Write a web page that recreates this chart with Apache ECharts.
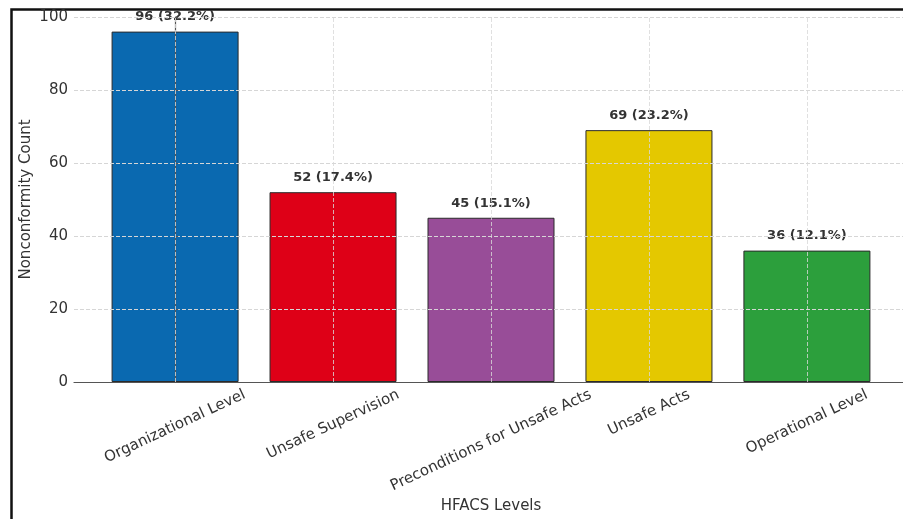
<!DOCTYPE html>
<html>
<head>
<meta charset="utf-8">
<title>HFACS Levels</title>
<script src="https://cdn.jsdelivr.net/npm/echarts@6/dist/echarts.min.js"></script>
<style>
  html, body { margin: 0; padding: 0; background: #ffffff; }
  #chart { width: 903px; height: 519px; }
</style>
</head>
<body>
<div id="chart"></div>
<script>
// HFACS levels and their nonconformity counts
const categories = [
  'Organizational Level',
  'Unsafe Supervision',
  'Preconditions for Unsafe Acts',
  'Unsafe Acts',
  'Operational Level'
];
const counts = [96, 52, 45, 69, 36];
const shares = [32.2, 17.4, 15.1, 23.2, 12.1];
const barColors = ['#0a69b0', '#de0017', '#984d98', '#e4c800', '#2c9f3c'];
const yTicks = [0, 20, 40, 60, 80, 100];

const FONT = '"DejaVu Sans", "Liberation Sans", sans-serif';
const LABEL_SIZE = 15;
const LABEL_ROT = 25;

// text width for the rotated category labels
const measureCtx = document.createElement('canvas').getContext('2d');
function textWidth(t) {
  measureCtx.font = LABEL_SIZE + 'px ' + FONT;
  return measureCtx.measureText(t).width;
}

const chart = echarts.init(document.getElementById('chart'), null, { renderer: 'canvas' });

const option = {
  backgroundColor: '#ffffff',
  animation: false,
  textStyle: { fontFamily: FONT },
  grid: { left: 74, top: 17, width: 834, bottom: 137, containLabel: false, outerBoundsMode: 'none' },
  xAxis: {
    type: 'value',
    min: -0.64,
    max: 4.64,
    z: 4,
    name: 'HFACS Levels',
    nameLocation: 'middle',
    nameGap: 117,
    nameMoveOverlap: false,
    nameTextStyle: { fontSize: 15, color: '#333', fontFamily: FONT },
    axisLine: { show: true, onZero: false, lineStyle: { color: '#555', width: 1.2 } },
    axisTick: { show: false },
    axisLabel: { show: false },
    splitLine: { show: false }
  },
  yAxis: {
    type: 'value',
    min: yTicks[0],
    max: yTicks[yTicks.length - 1],
    interval: yTicks[1] - yTicks[0],
    z: 4,
    name: 'Nonconformity Count',
    nameLocation: 'middle',
    nameGap: 40,
    nameMoveOverlap: false,
    nameRotate: 90,
    nameTextStyle: { fontSize: 15, color: '#333', fontFamily: FONT },
    axisLine: { show: true, lineStyle: { color: '#555', width: 1.2 } },
    axisTick: { show: true, inside: true, length: 3, lineStyle: { color: '#555' } },
    axisLabel: { fontSize: 15, color: '#333', margin: 6, fontFamily: FONT },
    splitLine: { show: true, lineStyle: { color: '#d6d6d6', type: [4, 2], width: 1 } }
  },
  series: [
    {
      type: 'bar',
      z: 2,
      barWidth: 127,
      data: counts.map((v, i) => ({
        value: [i, v],
        itemStyle: { color: barColors[i], borderColor: '#2a2a2a', borderWidth: 1 }
      })),
      label: {
        show: true,
        position: 'top',
        distance: 8,
        fontFamily: FONT,
        fontSize: 13,
        fontWeight: 'bold',
        color: '#333',
        formatter: p => counts[p.dataIndex] + ' (' + shares[p.dataIndex].toFixed(1) + '%)'
      },
      markLine: {
        silent: true,
        symbol: 'none',
        label: { show: false },
        lineStyle: { color: '#d8d8d8', type: [4, 2], width: 1, opacity: 0.8 },
        data: categories.map((c, i) => ({ xAxis: i }))
      }
    },
    {
      // rotated category labels, centred under each bar
      type: 'custom',
      z: 5,
      clip: false,
      silent: true,
      data: categories.map((c, i) => [i, 0]),
      renderItem: (params, api) => {
        const i = api.value(0);
        const p = api.coord([i, 0]);
        const text = categories[i];
        const w = textWidth(text);
        const h = LABEL_SIZE * 1.17;
        const a = LABEL_ROT * Math.PI / 180;
        const boxH = w * Math.sin(a) + h * Math.cos(a);
        return {
          type: 'text',
          x: p[0],
          y: p[1] + 4 + boxH / 2,
          rotation: a,
          style: {
            text: text,
            font: LABEL_SIZE + 'px ' + FONT,
            fill: '#333',
            align: 'center',
            verticalAlign: 'middle'
          }
        };
      }
    }
  ],
  graphic: [
    {
      type: 'rect',
      left: 9,
      top: 7,
      shape: { x: 0, y: 0, width: 1000, height: 1000 },
      style: { fill: 'none', stroke: '#111', lineWidth: 2.5 },
      silent: true
    }
  ]
};

chart.setOption(option);
</script>
</body>
</html>
